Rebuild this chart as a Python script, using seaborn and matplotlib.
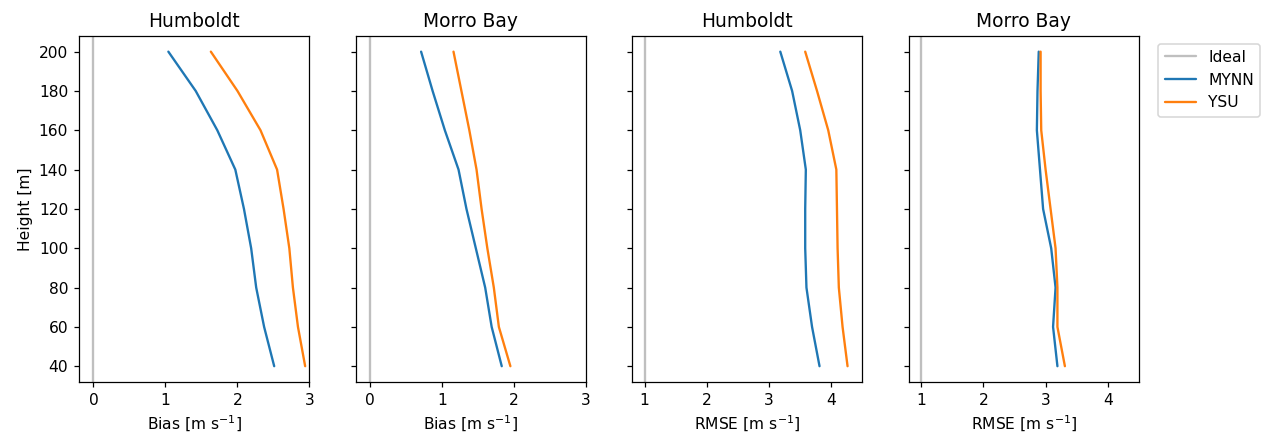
import numpy as np
import pandas as pd
import matplotlib
matplotlib.use("Agg")
import matplotlib.pyplot as plt
from matplotlib.lines import Line2D
import seaborn as sns

sns.set_style("ticks", {"text.color": "black", "axes.labelcolor": "black",
                        "xtick.color": "black", "ytick.color": "black",
                        "axes.edgecolor": "black"})
plt.rcParams["font.family"] = ["DejaVu Sans"]

# Data
heights = [200, 180, 160, 140, 120, 100, 80, 60, 40]
sites = ["Humboldt", "Morro Bay", "Humboldt", "Morro Bay"]
metrics = ["Bias", "Bias", "RMSE", "RMSE"]
ideal = {"Bias": 0, "RMSE": 1}

mynn_bias_humboldt = [1.04, 1.42, 1.72, 1.97, 2.09, 2.19, 2.26, 2.37, 2.51]
ysu_bias_humboldt = [1.63, 2.00, 2.32, 2.55, 2.64, 2.72, 2.77, 2.84, 2.94]
mynn_bias_morro = [0.71, 0.87, 1.04, 1.23, 1.34, 1.47, 1.60, 1.69, 1.83]
ysu_bias_morro = [1.16, 1.27, 1.38, 1.48, 1.55, 1.63, 1.72, 1.79, 1.95]
mynn_rmse_humboldt = [3.18, 3.37, 3.50, 3.59, 3.58, 3.58, 3.60, 3.69, 3.81]
ysu_rmse_humboldt = [3.58, 3.77, 3.95, 4.08, 4.09, 4.10, 4.12, 4.18, 4.26]
mynn_rmse_morro = [2.89, 2.87, 2.86, 2.91, 2.96, 3.09, 3.16, 3.12, 3.19]
ysu_rmse_morro = [2.92, 2.92, 2.93, 3.00, 3.08, 3.16, 3.19, 3.19, 3.31]

mynn = [mynn_bias_humboldt, mynn_bias_morro, mynn_rmse_humboldt, mynn_rmse_morro]
ysu = [ysu_bias_humboldt, ysu_bias_morro, ysu_rmse_humboldt, ysu_rmse_morro]

colors = {"MYNN": "#1f77b4", "YSU": "#ff7f0e"}

DPI = 112
fig, axes = plt.subplots(1, 4, figsize=(1265 / DPI, 438 / DPI), dpi=DPI, sharey=True)

for i, ax in enumerate(axes):
    df = pd.concat([
        pd.DataFrame({"height": heights, "value": mynn[i], "scheme": "MYNN"}),
        pd.DataFrame({"height": heights, "value": ysu[i], "scheme": "YSU"}),
    ])
    ax.axvline(ideal[metrics[i]], color="gray", alpha=0.5, lw=1.5)
    sns.lineplot(data=df, x="value", y="height", hue="scheme", palette=colors,
                 sort=False, orient="y", ax=ax, legend=False, lw=1.5)
    ax.set_title(sites[i], fontsize=12)
    ax.set_xlabel(f"{metrics[i]} [m s$^{{-1}}$]")
    ax.set_ylabel("")
    if metrics[i] == "Bias":
        ax.set_xlim(-0.2, 3.0)
        ax.set_xticks([0, 1, 2, 3])
    else:
        ax.set_xlim(0.8, 4.5)
        ax.set_xticks([1, 2, 3, 4])

axes[0].set_ylabel("Height [m]")
axes[0].set_yticks(range(40, 201, 20))

handles = [Line2D([], [], color="gray", alpha=0.5, lw=1.5),
           Line2D([], [], color=colors["MYNN"], lw=1.5),
           Line2D([], [], color=colors["YSU"], lw=1.5)]
axes[-1].legend(handles, ["Ideal", "MYNN", "YSU"], loc="upper left",
                bbox_to_anchor=(1.05, 1.0))

fig.subplots_adjust(left=0.0625, right=0.9004, top=0.918, bottom=0.128, wspace=0.2)
fig.savefig("out.png", dpi=DPI)
